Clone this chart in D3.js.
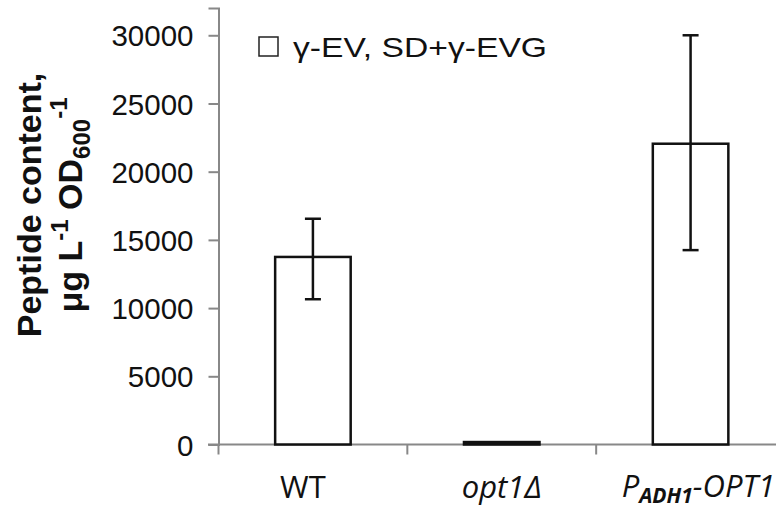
<!DOCTYPE html>
<html>
<head>
<meta charset="utf-8">
<script src="https://cdn.jsdelivr.net/npm/d3@7"></script>
<style>
  body { margin: 0; background: #fff; }
  text { font-family: "Liberation Sans", Arial, sans-serif; }
  text.xlab { font-family: "Open Sans", sans-serif; }
</style>
</head>
<body>
<div id="chart"></div>
<script>
var categories = ["WT", "opt1Δ", "PADH1-OPT1"];
var values = [13750, 180, 22050];
var errLow = [10650, null, 14250];
var errHigh = [16550, null, 30000];
var yTicks = [0, 5000, 10000, 15000, 20000, 25000, 30000];

var width = 776, height = 508;
var svg = d3.select("#chart").append("svg")
  .attr("width", width)
  .attr("height", height);

var x = d3.scaleBand()
  .domain(categories)
  .range([218.5, 785])
  .paddingInner(0)
  .paddingOuter(0);

var y = d3.scaleLinear()
  .domain([0, 32000])
  .range([444.5, 8]);

var barW = x.bandwidth() * 0.4;

// y axis
var yAxis = d3.axisLeft(y).tickValues(yTicks).tickSize(10).tickPadding(15)
  .tickFormat(d3.format("d"));
var gy = svg.append("g")
  .attr("transform", "translate(218.5,0)")
  .call(yAxis);
gy.select(".domain").attr("stroke", "#888").attr("stroke-width", 2);
gy.selectAll(".tick line").attr("stroke", "#888").attr("stroke-width", 2);
gy.selectAll(".tick text")
  .attr("fill", "#111")
  .style("font-size", "29.5px")
  .attr("dy", "0.36em");

// x axis
var xAxis = d3.axisBottom(x).tickSize(0).tickFormat("");
var gx = svg.append("g")
  .attr("transform", "translate(0," + y(0) + ")")
  .call(xAxis);
gx.select(".domain").remove();
svg.append("line")
  .attr("x1", 208).attr("x2", width)
  .attr("y1", y(0)).attr("y2", y(0))
  .attr("stroke", "#888").attr("stroke-width", 2);
// category boundary ticks
svg.selectAll(".cattick")
  .data(categories)
  .enter().append("line")
  .attr("class", "cattick")
  .attr("x1", function (d) { return x(d); })
  .attr("x2", function (d) { return x(d); })
  .attr("y1", y(0)).attr("y2", y(0) + 10)
  .attr("stroke", "#888").attr("stroke-width", 2);

// bars
svg.selectAll(".bar")
  .data(values)
  .enter().append("rect")
  .attr("class", "bar")
  .attr("x", function (d, i) { return x(categories[i]) + x.bandwidth() / 2 - barW / 2; })
  .attr("y", function (d) { return y(d); })
  .attr("width", barW)
  .attr("height", function (d) { return y(0) - y(d); })
  .attr("fill", "#fff")
  .attr("stroke", "#111")
  .attr("stroke-width", 2.5);

// error bars
var capW = 8;
values.forEach(function (v, i) {
  if (errLow[i] == null) return;
  var cx = x(categories[i]) + x.bandwidth() / 2;
  var g = svg.append("g").attr("stroke", "#111").attr("stroke-width", 2.5);
  g.append("line").attr("x1", cx).attr("x2", cx)
    .attr("y1", y(errLow[i])).attr("y2", y(errHigh[i]));
  g.append("line").attr("x1", cx - capW).attr("x2", cx + capW)
    .attr("y1", y(errLow[i])).attr("y2", y(errLow[i]));
  g.append("line").attr("x1", cx - capW).attr("x2", cx + capW)
    .attr("y1", y(errHigh[i])).attr("y2", y(errHigh[i]));
});

// x labels
var lab = svg.append("g").attr("fill", "#111");
lab.append("text").attr("class", "xlab").style("font-size", "31px")
  .attr("x", x("WT") + x.bandwidth() / 2 - 10).attr("y", 498)
  .attr("text-anchor", "middle").text("WT");
lab.append("text").attr("class", "xlab").style("font-size", "31px")
  .attr("x", x("opt1Δ") + x.bandwidth() / 2).attr("y", 498)
  .attr("text-anchor", "middle").style("font-style", "italic").text("opt1Δ");
var t3 = lab.append("text").attr("class", "xlab").style("font-size", "31px")
  .attr("x", 775).attr("y", 497)
  .attr("text-anchor", "end").style("font-style", "italic");
t3.append("tspan").text("P");
t3.append("tspan").attr("dy", 6).style("font-size", "21px").style("font-weight", "bold").text("ADH1");
t3.append("tspan").attr("dy", -6).text("-OPT1");

// y title
var yt = svg.append("text")
  .attr("transform", "translate(0,205) rotate(-90)")
  .attr("text-anchor", "middle")
  .style("font-size", "34px")
  .style("font-weight", "bold")
  .attr("fill", "#111");
yt.append("tspan").attr("x", 0).attr("y", 41).text("Peptide content,");
var l2 = yt.append("tspan").attr("x", 0).attr("y", 82);
l2.append("tspan").text("μg L");
l2.append("tspan").attr("dy", -14).style("font-size", "24px").text("-1");
l2.append("tspan").attr("dy", 14).text(" OD");
l2.append("tspan").attr("dy", 8).style("font-size", "24px").text("600");
l2.append("tspan").attr("dy", -23).style("font-size", "24px").text("-1");

// legend
svg.append("rect")
  .attr("x", 259).attr("y", 37).attr("width", 19).attr("height", 19)
  .attr("fill", "#fff").attr("stroke", "#222").attr("stroke-width", 1.5);
svg.append("text")
  .attr("x", 293).attr("y", 57)
  .style("font-size", "28px").attr("fill", "#111")
  .attr("textLength", 254).attr("lengthAdjust", "spacingAndGlyphs")
  .text("γ-EV, SD+γ-EVG");
</script>
</body>
</html>
